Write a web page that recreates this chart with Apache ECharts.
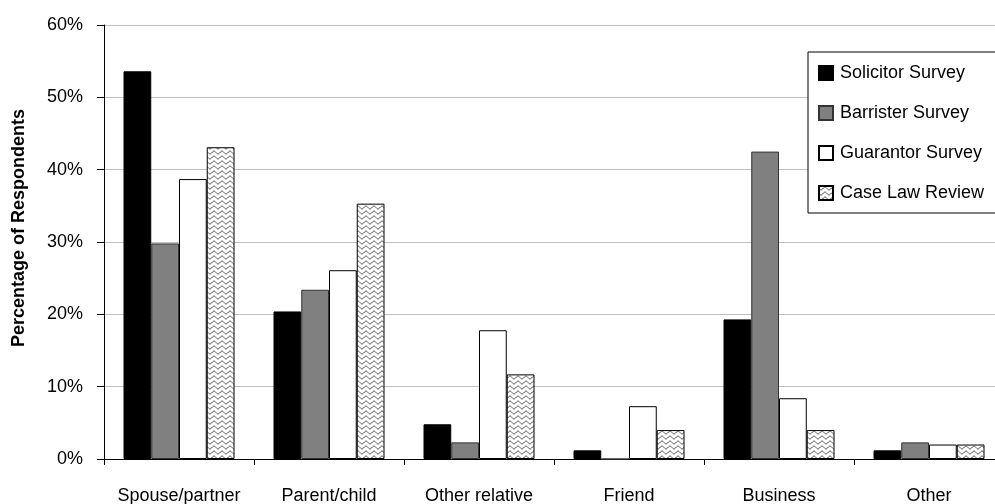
<!DOCTYPE html>
<html>
<head>
<meta charset="utf-8">
<script src="https://cdn.jsdelivr.net/npm/echarts@6/dist/echarts.min.js"></script>
<style>
  html, body { margin: 0; padding: 0; background: #fff; }
  #chart { width: 995px; height: 504px; }
</style>
</head>
<body>
<div id="chart"></div>
<script>
// Relationship of guarantor to borrower, percentage of respondents per source
const categories = ['Spouse/partner', 'Parent/child', 'Other relative', 'Friend', 'Business', 'Other'];
const solicitor  = [53.6, 20.4, 4.8, 1.2, 19.3, 1.2];
const barrister  = [29.8, 23.4, 2.3, 0.0, 42.5, 2.3];
const guarantor  = [38.7, 26.1, 17.8, 7.3, 8.4, 2.0];
const caseLaw    = [43.1, 35.3, 11.7, 4.0, 4.0, 2.0];
const seriesNames = ['Solicitor Survey', 'Barrister Survey', 'Guarantor Survey', 'Case Law Review'];
const yTicks = { min: 0, max: 60, interval: 10 };

const FONT = 'Liberation Sans, Arial, sans-serif';

// Wavy-line fill used for the case-law bars
function wavePattern() {
  const w = 8, h = 5;
  const c = document.createElement('canvas');
  c.width = w; c.height = h;
  const ctx = c.getContext('2d');
  ctx.fillStyle = '#fff';
  ctx.fillRect(0, 0, w, h);
  ctx.strokeStyle = '#333';
  ctx.lineWidth = 1;
  ctx.beginPath();
  for (let x = 0; x <= w; x += 0.25) {
    const y = 2.5 + 1.4 * Math.sin((x / w) * Math.PI * 2);
    if (x === 0) ctx.moveTo(x, y); else ctx.lineTo(x, y);
  }
  ctx.stroke();
  return c;
}

const styles = [
  { color: '#000000', borderColor: '#000000', borderWidth: 1 },
  { color: '#808080', borderColor: '#333333', borderWidth: 1 },
  { color: '#ffffff', borderColor: '#000000', borderWidth: 1 },
  { color: { image: wavePattern(), repeat: 'repeat' }, borderColor: '#000000', borderWidth: 1 }
];
const values = [solicitor, barrister, guarantor, caseLaw];

const chart = echarts.init(document.getElementById('chart'), null, { renderer: 'canvas' });

chart.setOption({
  animation: false,
  backgroundColor: '#ffffff',
  grid: { left: 104, top: 25, width: 900, height: 434, containLabel: false, outerBoundsMode: 'none' },
  legend: {
    orient: 'vertical',
    left: 808,
    top: 52,
    padding: [12, 40, 11, 10],
    icon: 'rect',
    itemWidth: 14,
    itemHeight: 14,
    itemGap: 22,
    borderColor: '#000',
    borderWidth: 1,
    backgroundColor: '#fff',
    textStyle: { fontFamily: FONT, fontSize: 18, color: '#000', padding: [0, 0, 0, 2] },
    data: seriesNames
  },
  xAxis: {
    type: 'category',
    data: categories,
    axisLine: { lineStyle: { color: '#000', width: 1 } },
    axisTick: { show: true, interval: 0, length: 6, lineStyle: { color: '#000' } },
    axisLabel: { interval: 0, fontFamily: FONT, fontSize: 18, color: '#000', margin: 28 },
    splitLine: { show: false }
  },
  yAxis: {
    type: 'value',
    min: yTicks.min,
    max: yTicks.max,
    interval: yTicks.interval,
    name: 'Percentage of Respondents',
    nameLocation: 'middle',
    nameRotate: 90,
    nameGap: 76,
    nameTextStyle: { fontFamily: FONT, fontSize: 18, fontWeight: 'bold', color: '#000', padding: [0, 0, 0, 28] },
    axisLine: { show: true, lineStyle: { color: '#000', width: 1 } },
    axisTick: { show: true, length: 7, lineStyle: { color: '#000' } },
    axisLabel: { fontFamily: FONT, fontSize: 18, color: '#000', margin: 21, formatter: '{value}%' },
    splitLine: { show: true, lineStyle: { color: '#c0c0c0', width: 1 } }
  },
  series: seriesNames.map((name, i) => ({
    name,
    type: 'bar',
    data: values[i],
    barGap: '0%',
    barCategoryGap: '26%',
    itemStyle: styles[i],
    emphasis: { disabled: true }
  }))
});
</script>
</body>
</html>
